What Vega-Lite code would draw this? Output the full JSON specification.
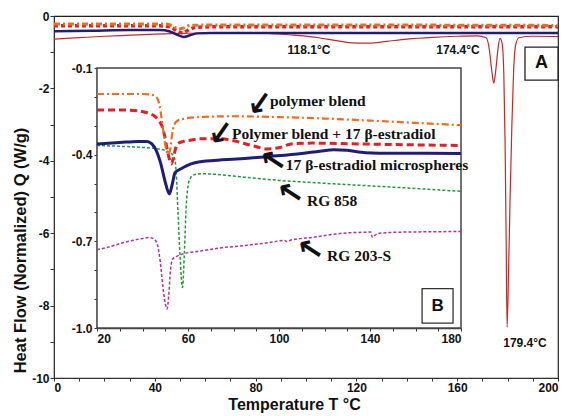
{
  "$schema": "https://vega.github.io/schema/vega-lite/v6.json",
  "width": 504,
  "height": 362,
  "autosize": "none",
  "padding": {"left": 54, "top": 16, "right": 10, "bottom": 38},
  "background": "white",
  "config": {
    "view": {"stroke": "#222", "strokeWidth": 1.2},
    "axis": {
      "grid": false,
      "labelFont": "Liberation Sans",
      "labelFontWeight": "bold",
      "labelFontSize": 12,
      "labelColor": "#111",
      "tickColor": "#333",
      "domainColor": "#333",
      "tickSize": 4,
      "titleFont": "Liberation Sans",
      "titleFontWeight": "bold",
      "titleColor": "#111"
    }
  },
  "datasets": {
    "mainLines": [
      {"s":"r","x":0,"y":-0.64},{"s":"r","x":10,"y":-0.6},{"s":"r","x":20,"y":-0.56},{"s":"r","x":30,"y":-0.53},{"s":"r","x":40,"y":-0.5},{"s":"r","x":50,"y":-0.48},{"s":"r","x":60,"y":-0.47},{"s":"r","x":72,"y":-0.47},{"s":"r","x":85,"y":-0.48},{"s":"r","x":95,"y":-0.53},{"s":"r","x":105,"y":-0.6},{"s":"r","x":112,"y":-0.68},{"s":"r","x":118,"y":-0.74},{"s":"r","x":125,"y":-0.75},{"s":"r","x":132,"y":-0.7},{"s":"r","x":140,"y":-0.64},{"s":"r","x":150,"y":-0.59},{"s":"r","x":160,"y":-0.56},{"s":"r","x":168,"y":-0.55},{"s":"r","x":171.5,"y":-0.6},{"s":"r","x":172.8,"y":-0.95},{"s":"r","x":173.7,"y":-1.5},{"s":"r","x":174.5,"y":-1.86},{"s":"r","x":175.3,"y":-1.5},{"s":"r","x":176.2,"y":-0.9},{"s":"r","x":177,"y":-0.62},{"s":"r","x":177.8,"y":-0.75},{"s":"r","x":178.5,"y":-1.6},{"s":"r","x":179,"y":-3.5},{"s":"r","x":179.4,"y":-6},{"s":"r","x":179.8,"y":-8.6},{"s":"r","x":180.4,"y":-7},{"s":"r","x":181,"y":-5},{"s":"r","x":181.7,"y":-3},{"s":"r","x":182.4,"y":-1.5},{"s":"r","x":183.2,"y":-0.8},{"s":"r","x":184.5,"y":-0.6},{"s":"r","x":190,"y":-0.56},{"s":"r","x":200,"y":-0.57},
      {"s":"n","x":0,"y":-0.42},{"s":"n","x":15,"y":-0.405},{"s":"n","x":30,"y":-0.39},{"s":"n","x":42,"y":-0.39},{"s":"n","x":46,"y":-0.43},{"s":"n","x":49,"y":-0.52},{"s":"n","x":51.5,"y":-0.58},{"s":"n","x":54,"y":-0.53},{"s":"n","x":57,"y":-0.48},{"s":"n","x":62,"y":-0.47},{"s":"n","x":100,"y":-0.47},{"s":"n","x":150,"y":-0.47},{"s":"n","x":200,"y":-0.47},
      {"s":"rd","x":0,"y":-0.27},{"s":"rd","x":42,"y":-0.27},{"s":"rd","x":46,"y":-0.3},{"s":"rd","x":49,"y":-0.42},{"s":"rd","x":51,"y":-0.47},{"s":"rd","x":53,"y":-0.4},{"s":"rd","x":56,"y":-0.32},{"s":"rd","x":62,"y":-0.3},{"s":"rd","x":120,"y":-0.3},{"s":"rd","x":200,"y":-0.3},
      {"s":"o","x":0,"y":-0.22},{"s":"o","x":44,"y":-0.22},{"s":"o","x":47,"y":-0.27},{"s":"o","x":49.5,"y":-0.36},{"s":"o","x":51.5,"y":-0.33},{"s":"o","x":54,"y":-0.26},{"s":"o","x":60,"y":-0.25},{"s":"o","x":120,"y":-0.25},{"s":"o","x":200,"y":-0.26}
    ],
    "mainText": [
      {"x":101.2,"y":-0.94,"t":"118.1°C"},
      {"x":160.3,"y":-0.94,"t":"174.4°C"},
      {"x":186.9,"y":-9.03,"t":"179.4°C"}
    ],
    "mainBox": [
      {"x":186.9,"x2":200,"y":-1.77,"y2":-0.86,"cx":193.5,"cy":-1.31,"t":"A"}
    ],
    "insetFrame": [
      {"x":20,"x2":180,"y":-1.0,"y2":-0.1}
    ],
    "insetLines": [
      {"s":"o","x":20,"y":-0.19},{"s":"o","x":30,"y":-0.19},{"s":"o","x":40,"y":-0.19},{"s":"o","x":44,"y":-0.193},{"s":"o","x":46,"y":-0.2},{"s":"o","x":47.5,"y":-0.23},{"s":"o","x":48.5,"y":-0.28},{"s":"o","x":49.5,"y":-0.34},{"s":"o","x":50.5,"y":-0.385},{"s":"o","x":51.3,"y":-0.4},{"s":"o","x":52.2,"y":-0.38},{"s":"o","x":53,"y":-0.33},{"s":"o","x":54,"y":-0.295},{"s":"o","x":55.5,"y":-0.282},{"s":"o","x":58,"y":-0.276},{"s":"o","x":65,"y":-0.27},{"s":"o","x":80,"y":-0.267},{"s":"o","x":100,"y":-0.27},{"s":"o","x":120,"y":-0.275},{"s":"o","x":140,"y":-0.282},{"s":"o","x":160,"y":-0.29},{"s":"o","x":180,"y":-0.298},
      {"s":"rd","x":20,"y":-0.245},{"s":"rd","x":30,"y":-0.245},{"s":"rd","x":38,"y":-0.248},{"s":"rd","x":42,"y":-0.255},{"s":"rd","x":45,"y":-0.265},{"s":"rd","x":47,"y":-0.28},{"s":"rd","x":48.5,"y":-0.3},{"s":"rd","x":49.6,"y":-0.33},{"s":"rd","x":50.8,"y":-0.38},{"s":"rd","x":52,"y":-0.42},{"s":"rd","x":52.7,"y":-0.432},{"s":"rd","x":53.6,"y":-0.41},{"s":"rd","x":54.5,"y":-0.38},{"s":"rd","x":55.5,"y":-0.362},{"s":"rd","x":58,"y":-0.354},{"s":"rd","x":61,"y":-0.35},{"s":"rd","x":66,"y":-0.345},{"s":"rd","x":74,"y":-0.345},{"s":"rd","x":80,"y":-0.352},{"s":"rd","x":88,"y":-0.368},{"s":"rd","x":95,"y":-0.38},{"s":"rd","x":100,"y":-0.376},{"s":"rd","x":106,"y":-0.362},{"s":"rd","x":115,"y":-0.36},{"s":"rd","x":130,"y":-0.362},{"s":"rd","x":150,"y":-0.365},{"s":"rd","x":180,"y":-0.368},
      {"s":"n","x":20,"y":-0.363},{"s":"n","x":30,"y":-0.358},{"s":"n","x":38,"y":-0.354},{"s":"n","x":42,"y":-0.354},{"s":"n","x":44,"y":-0.362},{"s":"n","x":46,"y":-0.385},{"s":"n","x":48,"y":-0.43},{"s":"n","x":50,"y":-0.495},{"s":"n","x":51.8,"y":-0.536},{"s":"n","x":53,"y":-0.505},{"s":"n","x":54.3,"y":-0.462},{"s":"n","x":55.5,"y":-0.455},{"s":"n","x":57.6,"y":-0.446},{"s":"n","x":60,"y":-0.436},{"s":"n","x":63,"y":-0.428},{"s":"n","x":68,"y":-0.422},{"s":"n","x":75,"y":-0.418},{"s":"n","x":85,"y":-0.413},{"s":"n","x":96,"y":-0.406},{"s":"n","x":110,"y":-0.396},{"s":"n","x":118,"y":-0.388},{"s":"n","x":124,"y":-0.383},{"s":"n","x":130,"y":-0.385},{"s":"n","x":138,"y":-0.393},{"s":"n","x":150,"y":-0.395},{"s":"n","x":165,"y":-0.395},{"s":"n","x":180,"y":-0.396},
      {"s":"g","x":20,"y":-0.368},{"s":"g","x":30,"y":-0.371},{"s":"g","x":40,"y":-0.375},{"s":"g","x":47,"y":-0.38},{"s":"g","x":50.5,"y":-0.387},{"s":"g","x":53,"y":-0.398},{"s":"g","x":54,"y":-0.41},{"s":"g","x":54.8,"y":-0.46},{"s":"g","x":55.6,"y":-0.6},{"s":"g","x":56.5,"y":-0.75},{"s":"g","x":57.6,"y":-0.86},{"s":"g","x":58.4,"y":-0.74},{"s":"g","x":59.2,"y":-0.58},{"s":"g","x":60.2,"y":-0.5},{"s":"g","x":61,"y":-0.482},{"s":"g","x":62.5,"y":-0.47},{"s":"g","x":66,"y":-0.466},{"s":"g","x":72,"y":-0.468},{"s":"g","x":80,"y":-0.474},{"s":"g","x":90,"y":-0.482},{"s":"g","x":100,"y":-0.489},{"s":"g","x":120,"y":-0.499},{"s":"g","x":140,"y":-0.508},{"s":"g","x":160,"y":-0.517},{"s":"g","x":180,"y":-0.527},
      {"s":"m","x":20,"y":-0.729},{"s":"m","x":25,"y":-0.72},{"s":"m","x":30,"y":-0.708},{"s":"m","x":35,"y":-0.698},{"s":"m","x":40,"y":-0.69},{"s":"m","x":43,"y":-0.687},{"s":"m","x":45,"y":-0.692},{"s":"m","x":46.5,"y":-0.71},{"s":"m","x":47.8,"y":-0.77},{"s":"m","x":49,"y":-0.86},{"s":"m","x":50.3,"y":-0.925},{"s":"m","x":50.8,"y":-0.934},{"s":"m","x":51.5,"y":-0.89},{"s":"m","x":52.3,"y":-0.8},{"s":"m","x":53.2,"y":-0.762},{"s":"m","x":55,"y":-0.752},{"s":"m","x":57.6,"y":-0.744},{"s":"m","x":65,"y":-0.734},{"s":"m","x":75,"y":-0.722},{"s":"m","x":83,"y":-0.716},{"s":"m","x":95,"y":-0.705},{"s":"m","x":102.5,"y":-0.697},{"s":"m","x":103.5,"y":-0.701},{"s":"m","x":105,"y":-0.696},{"s":"m","x":115,"y":-0.686},{"s":"m","x":128,"y":-0.672},{"s":"m","x":135,"y":-0.669},{"s":"m","x":140.3,"y":-0.668},{"s":"m","x":141,"y":-0.686},{"s":"m","x":142,"y":-0.68},{"s":"m","x":143.5,"y":-0.673},{"s":"m","x":150,"y":-0.669},{"s":"m","x":165,"y":-0.667},{"s":"m","x":180,"y":-0.666}
    ],
    "insetText": [
      {"x":96.0,"y":-0.214,"t":"polymer blend"},
      {"x":79.3,"y":-0.327,"t":"Polymer blend + 17 β-estradiol"},
      {"x":103.0,"y":-0.437,"t":"17 β-estradiol  microspheres"},
      {"x":112.3,"y":-0.559,"t":"RG 858"},
      {"x":121.1,"y":-0.75,"t":"RG 203-S"}
    ],
    "insetArrows": [
      {"x":91.8,"y":-0.228,"d":"sw","t":"↙"},
      {"x":74.6,"y":-0.33,"d":"sw","t":"↙"},
      {"x":97.6,"y":-0.428,"d":"nw","t":"↖"},
      {"x":105.2,"y":-0.54,"d":"nw","t":"↖"},
      {"x":114.0,"y":-0.735,"d":"nw","t":"↖"}
    ],
    "insetBox": [
      {"x":162.9,"x2":176.5,"y":-0.983,"y2":-0.864,"cx":169.7,"cy":-0.923,"t":"B"}
    ]
  },
  "layer": [
    {
      "encoding": {
        "x": {
          "field": "x", "type": "quantitative",
          "scale": {"domain": [0, 200], "nice": false, "zero": false},
          "axis": {
            "values": [0,10,20,30,40,50,60,70,80,90,100,110,120,130,140,150,160,170,180,190,200],
            "labelExpr": "datum.value % 40 == 0 ? datum.label : ''",
            "tickSize": 3, "labelPadding": 1,
            "title": "Temperature T °C", "titleFontSize": 16,
            "titleX": 240, "titleY": 26, "titleBaseline": "middle", "titleAlign": "center"
          }
        },
        "y": {
          "field": "y", "type": "quantitative",
          "scale": {"domain": [-10, 0], "nice": false, "zero": false},
          "axis": {
            "values": [-10,-9,-8,-7,-6,-5,-4,-3,-2,-1,0],
            "labelExpr": "datum.value % 2 == 0 ? toString(datum.value) : ''",
            "tickSize": 4, "labelPadding": 1,
            "title": "Heat Flow (Normalized) Q (W/g)", "titleFontSize": 16.5,
            "titleX": -34, "titleY": 234, "titleBaseline": "middle", "titleAlign": "center", "titleAngle": -90
          }
        }
      },
      "layer": [
        {"data": {"name": "mainLines"}, "transform": [{"filter": "datum.s == 'r'"}],
         "mark": {"type": "line", "color": "#C62828", "strokeWidth": 1.2, "interpolate": "monotone"}},
        {"data": {"name": "mainLines"}, "transform": [{"filter": "datum.s == 'n'"}],
         "mark": {"type": "line", "color": "#1E1E78", "strokeWidth": 2.5, "interpolate": "monotone"}},
        {"data": {"name": "mainLines"}, "transform": [{"filter": "datum.s == 'rd'"}],
         "mark": {"type": "line", "color": "#E31E24", "strokeWidth": 3.5, "strokeDash": [4, 3], "interpolate": "monotone"}},
        {"data": {"name": "mainLines"}, "transform": [{"filter": "datum.s == 'o'"}],
         "mark": {"type": "line", "color": "#F26B1D", "strokeWidth": 3, "strokeDash": [6, 3, 2, 3], "interpolate": "monotone"}},
        {"data": {"name": "mainText"},
         "mark": {"type": "text", "font": "Liberation Sans", "fontWeight": "bold", "fontSize": 12, "color": "#111", "align": "center", "baseline": "middle"},
         "encoding": {"text": {"field": "t"}}},
        {"data": {"name": "mainBox"},
         "mark": {"type": "rect", "fill": "white", "stroke": "#222", "strokeWidth": 1.3},
         "encoding": {"x2": {"field": "x2"}, "y2": {"field": "y2"}}},
        {"data": {"name": "mainBox"},
         "mark": {"type": "text", "font": "Liberation Sans", "fontWeight": "bold", "fontSize": 18, "color": "#111", "align": "center", "baseline": "middle"},
         "encoding": {"x": {"field": "cx", "type": "quantitative"}, "y": {"field": "cy", "type": "quantitative"}, "text": {"field": "t"}}}
      ]
    },
    {
      "encoding": {
        "x": {
          "field": "x", "type": "quantitative",
          "scale": {"domain": [20, 180], "range": [43, 407], "nice": false, "zero": false},
          "axis": {
            "orient": "bottom", "offset": -50,
            "values": [20,30,40,50,60,70,80,90,100,110,120,130,140,150,160,170,180],
            "labelExpr": "(datum.value - 20) % 40 == 0 ? datum.label : ''",
            "tickSize": 3, "labelPadding": 2, "domainColor": "#444", "domainWidth": 1.5,
            "title": null
          }
        },
        "y": {
          "field": "y", "type": "quantitative",
          "scale": {"domain": [-1.0, -0.1], "range": [312, 52], "nice": false, "zero": false},
          "axis": {
            "orient": "left", "offset": -43,
            "values": [-1.0,-0.9,-0.8,-0.7,-0.6,-0.5,-0.4,-0.3,-0.2,-0.1],
            "labelExpr": "(round(datum.value*10)+1) % 3 == 0 ? (datum.value < 0 ? '-' : '') + format(abs(datum.value), '.1f') : ''",
            "tickSize": 3, "labelPadding": 2, "domainColor": "#444", "domainWidth": 1.5,
            "title": null
          }
        }
      },
      "layer": [
        {"data": {"name": "insetFrame"},
         "mark": {"type": "rect", "fill": "white", "stroke": "#444", "strokeWidth": 1.5},
         "encoding": {"x2": {"field": "x2"}, "y2": {"field": "y2"}}},
        {"data": {"name": "insetLines"}, "transform": [{"filter": "datum.s == 'm'"}],
         "mark": {"type": "line", "color": "#B5309B", "strokeWidth": 1.5, "strokeDash": [3, 2], "interpolate": "monotone"}},
        {"data": {"name": "insetLines"}, "transform": [{"filter": "datum.s == 'g'"}],
         "mark": {"type": "line", "color": "#1E9A3A", "strokeWidth": 1.5, "strokeDash": [3, 2], "interpolate": "monotone"}},
        {"data": {"name": "insetLines"}, "transform": [{"filter": "datum.s == 'n'"}],
         "mark": {"type": "line", "color": "#1E1E78", "strokeWidth": 3, "interpolate": "monotone"}},
        {"data": {"name": "insetLines"}, "transform": [{"filter": "datum.s == 'rd'"}],
         "mark": {"type": "line", "color": "#E31E24", "strokeWidth": 3, "strokeDash": [7, 4], "interpolate": "monotone"}},
        {"data": {"name": "insetLines"}, "transform": [{"filter": "datum.s == 'o'"}],
         "mark": {"type": "line", "color": "#F26B1D", "strokeWidth": 2.2, "strokeDash": [7, 3, 2, 3], "interpolate": "monotone"}},
        {"data": {"name": "insetText"},
         "mark": {"type": "text", "font": "Liberation Serif", "fontWeight": "bold", "fontSize": 15.5, "color": "#111", "align": "left", "baseline": "middle"},
         "encoding": {"text": {"field": "t"}}},
        {"data": {"name": "insetArrows"}, "transform": [{"filter": "datum.d == 'sw'"}],
         "mark": {"type": "text", "font": "DejaVu Sans", "fontWeight": "bold", "fontSize": 31, "color": "#111", "align": "center", "baseline": "middle", "angle": 350},
         "encoding": {"text": {"field": "t"}}},
        {"data": {"name": "insetArrows"}, "transform": [{"filter": "datum.d == 'nw'"}],
         "mark": {"type": "text", "font": "DejaVu Sans", "fontWeight": "bold", "fontSize": 31, "color": "#111", "align": "center", "baseline": "middle", "angle": 348},
         "encoding": {"text": {"field": "t"}}},
        {"data": {"name": "insetBox"},
         "mark": {"type": "rect", "fill": "white", "stroke": "#333", "strokeWidth": 1.3},
         "encoding": {"x2": {"field": "x2"}, "y2": {"field": "y2"}}},
        {"data": {"name": "insetBox"},
         "mark": {"type": "text", "font": "Liberation Sans", "fontWeight": "bold", "fontSize": 17, "color": "#111", "align": "center", "baseline": "middle"},
         "encoding": {"x": {"field": "cx", "type": "quantitative"}, "y": {"field": "cy", "type": "quantitative"}, "text": {"field": "t"}}}
      ]
    }
  ],
  "resolve": {
    "scale": {"x": "independent", "y": "independent"},
    "axis": {"x": "independent", "y": "independent"}
  }
}
